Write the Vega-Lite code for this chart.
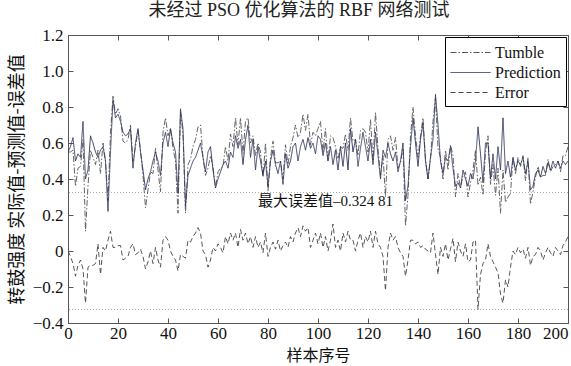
{
"$schema": "https://vega.github.io/schema/vega-lite/v6.json",
"width": 500, "height": 288,
"autosize": {"type": "none"},
"padding": {"left": 68, "top": 35, "right": 3, "bottom": 43},
"background": "white",
"config": {"view": {"stroke": "#555", "strokeWidth": 1}, "font": "Liberation Serif"},
"title": {"text": "未经过 PSO 优化算法的 RBF 网络测试", "font": "Liberation Serif, Noto Sans CJK SC", "fontSize": 18, "fontWeight": "normal", "anchor": "middle", "dx": -19, "offset": 6, "color": "#222"},
"datasets": {"main": [
{"x":0,"Tumble":0.55,"Prediction":0.55,"Error":0},
{"x":1,"Tumble":0.55,"Prediction":0.58,"Error":-0.03},
{"x":2,"Tumble":0.56,"Prediction":0.63,"Error":-0.07},
{"x":3,"Tumble":0.36,"Prediction":0.50,"Error":-0.14},
{"x":4,"Tumble":0.46,"Prediction":0.54,"Error":-0.08},
{"x":5,"Tumble":0.47,"Prediction":0.52,"Error":-0.05},
{"x":6,"Tumble":0.62,"Prediction":0.72,"Error":-0.10},
{"x":7,"Tumble":0.11,"Prediction":0.40,"Error":-0.29},
{"x":8,"Tumble":0.36,"Prediction":0.45,"Error":-0.09},
{"x":9,"Tumble":0.56,"Prediction":0.64,"Error":-0.08},
{"x":10,"Tumble":0.52,"Prediction":0.60,"Error":-0.08},
{"x":11,"Tumble":0.48,"Prediction":0.55,"Error":-0.07},
{"x":12,"Tumble":0.56,"Prediction":0.52,"Error":0.04},
{"x":13,"Tumble":0.43,"Prediction":0.56,"Error":-0.13},
{"x":14,"Tumble":0.60,"Prediction":0.58,"Error":0.02},
{"x":15,"Tumble":0.50,"Prediction":0.50,"Error":0},
{"x":16,"Tumble":0.28,"Prediction":0.22,"Error":0.06},
{"x":17,"Tumble":0.66,"Prediction":0.55,"Error":0.11},
{"x":18,"Tumble":0.86,"Prediction":0.84,"Error":0.02},
{"x":19,"Tumble":0.76,"Prediction":0.74,"Error":0.02},
{"x":20,"Tumble":0.79,"Prediction":0.76,"Error":0.03},
{"x":21,"Tumble":0.75,"Prediction":0.72,"Error":0.03},
{"x":22,"Tumble":0.61,"Prediction":0.66,"Error":-0.05},
{"x":23,"Tumble":0.60,"Prediction":0.64,"Error":-0.04},
{"x":24,"Tumble":0.62,"Prediction":0.65,"Error":-0.03},
{"x":25,"Tumble":0.70,"Prediction":0.68,"Error":0.02},
{"x":26,"Tumble":0.50,"Prediction":0.46,"Error":0.04},
{"x":27,"Tumble":0.58,"Prediction":0.60,"Error":-0.02},
{"x":28,"Tumble":0.67,"Prediction":0.68,"Error":-0.01},
{"x":29,"Tumble":0.56,"Prediction":0.55,"Error":0.01},
{"x":30,"Tumble":0.42,"Prediction":0.45,"Error":-0.03},
{"x":31,"Tumble":0.24,"Prediction":0.34,"Error":-0.10},
{"x":32,"Tumble":0.34,"Prediction":0.40,"Error":-0.06},
{"x":33,"Tumble":0.44,"Prediction":0.44,"Error":0},
{"x":34,"Tumble":0.43,"Prediction":0.50,"Error":-0.07},
{"x":35,"Tumble":0.57,"Prediction":0.55,"Error":0.02},
{"x":36,"Tumble":0.45,"Prediction":0.50,"Error":-0.05},
{"x":37,"Tumble":0.33,"Prediction":0.42,"Error":-0.09},
{"x":38,"Tumble":0.66,"Prediction":0.60,"Error":0.06},
{"x":39,"Tumble":0.74,"Prediction":0.66,"Error":0.08},
{"x":40,"Tumble":0.64,"Prediction":0.58,"Error":0.06},
{"x":41,"Tumble":0.68,"Prediction":0.68,"Error":0},
{"x":42,"Tumble":0.57,"Prediction":0.60,"Error":-0.03},
{"x":43,"Tumble":0.50,"Prediction":0.55,"Error":-0.05},
{"x":44,"Tumble":0.21,"Prediction":0.32,"Error":-0.11},
{"x":45,"Tumble":0.77,"Prediction":0.79,"Error":-0.02},
{"x":46,"Tumble":0.65,"Prediction":0.68,"Error":-0.03},
{"x":47,"Tumble":0.21,"Prediction":0.25,"Error":-0.04},
{"x":48,"Tumble":0.48,"Prediction":0.42,"Error":0.06},
{"x":49,"Tumble":0.51,"Prediction":0.46,"Error":0.05},
{"x":50,"Tumble":0.58,"Prediction":0.50,"Error":0.08},
{"x":51,"Tumble":0.62,"Prediction":0.52,"Error":0.10},
{"x":52,"Tumble":0.69,"Prediction":0.56,"Error":0.13},
{"x":53,"Tumble":0.70,"Prediction":0.60,"Error":0.10},
{"x":54,"Tumble":0.52,"Prediction":0.52,"Error":0},
{"x":55,"Tumble":0.42,"Prediction":0.44,"Error":-0.02},
{"x":56,"Tumble":0.46,"Prediction":0.55,"Error":-0.09},
{"x":57,"Tumble":0.53,"Prediction":0.58,"Error":-0.05},
{"x":58,"Tumble":0.47,"Prediction":0.45,"Error":0.02},
{"x":59,"Tumble":0.35,"Prediction":0.35,"Error":0},
{"x":60,"Tumble":0.44,"Prediction":0.40,"Error":0.04},
{"x":61,"Tumble":0.46,"Prediction":0.44,"Error":0.02},
{"x":62,"Tumble":0.47,"Prediction":0.48,"Error":-0.01},
{"x":63,"Tumble":0.58,"Prediction":0.50,"Error":0.08},
{"x":64,"Tumble":0.50,"Prediction":0.46,"Error":0.04},
{"x":65,"Tumble":0.65,"Prediction":0.55,"Error":0.10},
{"x":66,"Tumble":0.58,"Prediction":0.52,"Error":0.06},
{"x":67,"Tumble":0.74,"Prediction":0.64,"Error":0.10},
{"x":68,"Tumble":0.59,"Prediction":0.57,"Error":0.02},
{"x":69,"Tumble":0.74,"Prediction":0.62,"Error":0.12},
{"x":70,"Tumble":0.54,"Prediction":0.48,"Error":0.06},
{"x":71,"Tumble":0.72,"Prediction":0.62,"Error":0.10},
{"x":72,"Tumble":0.74,"Prediction":0.70,"Error":0.04},
{"x":73,"Tumble":0.60,"Prediction":0.52,"Error":0.08},
{"x":74,"Tumble":0.64,"Prediction":0.62,"Error":0.02},
{"x":75,"Tumble":0.53,"Prediction":0.45,"Error":0.08},
{"x":76,"Tumble":0.60,"Prediction":0.58,"Error":0.02},
{"x":77,"Tumble":0.55,"Prediction":0.50,"Error":0.05},
{"x":78,"Tumble":0.41,"Prediction":0.42,"Error":-0.01},
{"x":79,"Tumble":0.60,"Prediction":0.50,"Error":0.10},
{"x":80,"Tumble":0.33,"Prediction":0.36,"Error":-0.03},
{"x":81,"Tumble":0.52,"Prediction":0.50,"Error":0.02},
{"x":82,"Tumble":0.61,"Prediction":0.56,"Error":0.05},
{"x":83,"Tumble":0.49,"Prediction":0.48,"Error":0.01},
{"x":84,"Tumble":0.49,"Prediction":0.43,"Error":0.06},
{"x":85,"Tumble":0.50,"Prediction":0.50,"Error":0},
{"x":86,"Tumble":0.40,"Prediction":0.37,"Error":0.03},
{"x":87,"Tumble":0.59,"Prediction":0.54,"Error":0.05},
{"x":88,"Tumble":0.48,"Prediction":0.46,"Error":0.02},
{"x":89,"Tumble":0.58,"Prediction":0.50,"Error":0.08},
{"x":90,"Tumble":0.63,"Prediction":0.58,"Error":0.05},
{"x":91,"Tumble":0.70,"Prediction":0.60,"Error":0.10},
{"x":92,"Tumble":0.63,"Prediction":0.50,"Error":0.13},
{"x":93,"Tumble":0.66,"Prediction":0.58,"Error":0.08},
{"x":94,"Tumble":0.76,"Prediction":0.62,"Error":0.14},
{"x":95,"Tumble":0.67,"Prediction":0.56,"Error":0.11},
{"x":96,"Tumble":0.76,"Prediction":0.63,"Error":0.13},
{"x":97,"Tumble":0.59,"Prediction":0.57,"Error":0.02},
{"x":98,"Tumble":0.66,"Prediction":0.60,"Error":0.06},
{"x":99,"Tumble":0.64,"Prediction":0.54,"Error":0.10},
{"x":100,"Tumble":0.68,"Prediction":0.64,"Error":0.04},
{"x":101,"Tumble":0.72,"Prediction":0.62,"Error":0.10},
{"x":102,"Tumble":0.55,"Prediction":0.53,"Error":0.02},
{"x":103,"Tumble":0.68,"Prediction":0.60,"Error":0.08},
{"x":104,"Tumble":0.50,"Prediction":0.50,"Error":0},
{"x":105,"Tumble":0.64,"Prediction":0.58,"Error":0.06},
{"x":106,"Tumble":0.63,"Prediction":0.48,"Error":0.15},
{"x":107,"Tumble":0.58,"Prediction":0.56,"Error":0.02},
{"x":108,"Tumble":0.51,"Prediction":0.45,"Error":0.06},
{"x":109,"Tumble":0.58,"Prediction":0.58,"Error":0},
{"x":110,"Tumble":0.57,"Prediction":0.47,"Error":0.10},
{"x":111,"Tumble":0.65,"Prediction":0.60,"Error":0.05},
{"x":112,"Tumble":0.56,"Prediction":0.45,"Error":0.11},
{"x":113,"Tumble":0.74,"Prediction":0.68,"Error":0.06},
{"x":114,"Tumble":0.61,"Prediction":0.55,"Error":0.06},
{"x":115,"Tumble":0.62,"Prediction":0.62,"Error":0},
{"x":116,"Tumble":0.53,"Prediction":0.47,"Error":0.06},
{"x":117,"Tumble":0.67,"Prediction":0.57,"Error":0.10},
{"x":118,"Tumble":0.68,"Prediction":0.66,"Error":0.02},
{"x":119,"Tumble":0.66,"Prediction":0.58,"Error":0.08},
{"x":120,"Tumble":0.55,"Prediction":0.50,"Error":0.05},
{"x":121,"Tumble":0.73,"Prediction":0.62,"Error":0.11},
{"x":122,"Tumble":0.50,"Prediction":0.48,"Error":0.02},
{"x":123,"Tumble":0.77,"Prediction":0.66,"Error":0.11},
{"x":124,"Tumble":0.57,"Prediction":0.53,"Error":0.04},
{"x":125,"Tumble":0.42,"Prediction":0.40,"Error":0.02},
{"x":126,"Tumble":0.53,"Prediction":0.56,"Error":-0.03},
{"x":127,"Tumble":0.30,"Prediction":0.52,"Error":-0.22},
{"x":128,"Tumble":0.62,"Prediction":0.60,"Error":0.02},
{"x":129,"Tumble":0.64,"Prediction":0.54,"Error":0.10},
{"x":130,"Tumble":0.56,"Prediction":0.50,"Error":0.06},
{"x":131,"Tumble":0.63,"Prediction":0.55,"Error":0.08},
{"x":132,"Tumble":0.46,"Prediction":0.44,"Error":0.02},
{"x":133,"Tumble":0.49,"Prediction":0.50,"Error":-0.01},
{"x":134,"Tumble":0.57,"Prediction":0.60,"Error":-0.03},
{"x":135,"Tumble":0.14,"Prediction":0.28,"Error":-0.14},
{"x":136,"Tumble":0.31,"Prediction":0.36,"Error":-0.05},
{"x":137,"Tumble":0.64,"Prediction":0.58,"Error":0.06},
{"x":138,"Tumble":0.80,"Prediction":0.74,"Error":0.06},
{"x":139,"Tumble":0.64,"Prediction":0.60,"Error":0.04},
{"x":140,"Tumble":0.52,"Prediction":0.47,"Error":0.05},
{"x":141,"Tumble":0.64,"Prediction":0.62,"Error":0.02},
{"x":142,"Tumble":0.74,"Prediction":0.71,"Error":0.03},
{"x":143,"Tumble":0.51,"Prediction":0.50,"Error":0.01},
{"x":144,"Tumble":0.40,"Prediction":0.40,"Error":0},
{"x":145,"Tumble":0.51,"Prediction":0.52,"Error":-0.01},
{"x":146,"Tumble":0.72,"Prediction":0.62,"Error":0.10},
{"x":147,"Tumble":0.85,"Prediction":0.87,"Error":-0.02},
{"x":148,"Tumble":0.57,"Prediction":0.70,"Error":-0.13},
{"x":149,"Tumble":0.52,"Prediction":0.50,"Error":0.02},
{"x":150,"Tumble":0.40,"Prediction":0.43,"Error":-0.03},
{"x":151,"Tumble":0.56,"Prediction":0.52,"Error":0.04},
{"x":152,"Tumble":0.45,"Prediction":0.50,"Error":-0.05},
{"x":153,"Tumble":0.59,"Prediction":0.58,"Error":0.01},
{"x":154,"Tumble":0.53,"Prediction":0.46,"Error":0.07},
{"x":155,"Tumble":0.30,"Prediction":0.36,"Error":-0.06},
{"x":156,"Tumble":0.43,"Prediction":0.38,"Error":0.05},
{"x":157,"Tumble":0.35,"Prediction":0.35,"Error":0},
{"x":158,"Tumble":0.42,"Prediction":0.45,"Error":-0.03},
{"x":159,"Tumble":0.44,"Prediction":0.40,"Error":0.04},
{"x":160,"Tumble":0.30,"Prediction":0.36,"Error":-0.06},
{"x":161,"Tumble":0.38,"Prediction":0.43,"Error":-0.05},
{"x":162,"Tumble":0.45,"Prediction":0.40,"Error":0.05},
{"x":163,"Tumble":0.56,"Prediction":0.50,"Error":0.06},
{"x":164,"Tumble":0.365,"Prediction":0.69,"Error":-0.325},
{"x":165,"Tumble":0.41,"Prediction":0.54,"Error":-0.13},
{"x":166,"Tumble":0.31,"Prediction":0.38,"Error":-0.07},
{"x":167,"Tumble":0.55,"Prediction":0.60,"Error":-0.05},
{"x":168,"Tumble":0.64,"Prediction":0.60,"Error":0.04},
{"x":169,"Tumble":0.37,"Prediction":0.40,"Error":-0.03},
{"x":170,"Tumble":0.48,"Prediction":0.54,"Error":-0.06},
{"x":171,"Tumble":0.31,"Prediction":0.40,"Error":-0.09},
{"x":172,"Tumble":0.46,"Prediction":0.58,"Error":-0.12},
{"x":173,"Tumble":0.21,"Prediction":0.45,"Error":-0.24},
{"x":174,"Tumble":0.45,"Prediction":0.74,"Error":-0.29},
{"x":175,"Tumble":0.27,"Prediction":0.43,"Error":-0.16},
{"x":176,"Tumble":0.30,"Prediction":0.50,"Error":-0.20},
{"x":177,"Tumble":0.32,"Prediction":0.41,"Error":-0.09},
{"x":178,"Tumble":0.52,"Prediction":0.52,"Error":0},
{"x":179,"Tumble":0.43,"Prediction":0.45,"Error":-0.02},
{"x":180,"Tumble":0.52,"Prediction":0.50,"Error":0.02},
{"x":181,"Tumble":0.47,"Prediction":0.48,"Error":-0.01},
{"x":182,"Tumble":0.53,"Prediction":0.52,"Error":0.01},
{"x":183,"Tumble":0.39,"Prediction":0.43,"Error":-0.04},
{"x":184,"Tumble":0.52,"Prediction":0.50,"Error":0.02},
{"x":185,"Tumble":0.26,"Prediction":0.34,"Error":-0.08},
{"x":186,"Tumble":0.33,"Prediction":0.36,"Error":-0.03},
{"x":187,"Tumble":0.41,"Prediction":0.43,"Error":-0.02},
{"x":188,"Tumble":0.47,"Prediction":0.45,"Error":0.02},
{"x":189,"Tumble":0.41,"Prediction":0.41,"Error":0},
{"x":190,"Tumble":0.42,"Prediction":0.47,"Error":-0.05},
{"x":191,"Tumble":0.42,"Prediction":0.43,"Error":-0.01},
{"x":192,"Tumble":0.51,"Prediction":0.49,"Error":0.02},
{"x":193,"Tumble":0.44,"Prediction":0.45,"Error":-0.01},
{"x":194,"Tumble":0.47,"Prediction":0.50,"Error":-0.03},
{"x":195,"Tumble":0.48,"Prediction":0.46,"Error":0.02},
{"x":196,"Tumble":0.50,"Prediction":0.50,"Error":0},
{"x":197,"Tumble":0.44,"Prediction":0.46,"Error":-0.02},
{"x":198,"Tumble":0.53,"Prediction":0.50,"Error":0.03},
{"x":199,"Tumble":0.53,"Prediction":0.48,"Error":0.05},
{"x":200,"Tumble":0.58,"Prediction":0.50,"Error":0.08}
]},
"resolve": {"axis": {"x": "independent", "y": "independent"}},
"layer": [
{
 "data": {"values": [{"y": 0.32481}, {"y": -0.32481}]},
 "mark": {"type": "rule", "color": "#aaa", "strokeWidth": 1, "strokeDash": [1, 2]},
 "encoding": {"y": {"field": "y", "type": "quantitative", "scale": {"domain": [-0.4, 1.2], "nice": false}, "axis": null}}
},
{
 "data": {"name": "main"},
 "transform": [{"fold": ["Tumble", "Prediction", "Error"], "as": ["series", "value"]}],
 "mark": {"type": "line", "strokeWidth": 0.9, "clip": true},
 "encoding": {
  "x": {"field": "x", "type": "quantitative", "scale": {"domain": [0, 200], "nice": false},
   "axis": {"values": [0,20,40,60,80,100,120,140,160,180,200], "grid": false, "domain": false, "tickSize": -5, "tickColor": "#555", "labelFont": "Liberation Serif", "labelFontSize": 17, "labelColor": "#111", "labelPadding": 7, "labelFlush": false, "labelAlign": {"condition": {"test": "datum.value == 200", "value": "right"}, "value": "center"}, "title": "样本序号", "titleFont": "Noto Sans CJK SC", "titleFontSize": 16, "titleFontWeight": "normal", "titleColor": "#111", "titlePadding": 6}},
  "y": {"field": "value", "type": "quantitative", "scale": {"domain": [-0.4, 1.2], "nice": false},
   "axis": {"values": [-0.4,-0.2,0,0.2,0.4,0.6,0.8,1.0,1.2], "labelExpr": "datum.value == 0 ? '0' : format(datum.value, '.1f')", "grid": false, "domain": false, "tickSize": -5, "tickColor": "#555", "labelFont": "Liberation Serif", "labelFontSize": 17, "labelColor": "#111", "labelPadding": 10, "labelFlush": false, "title": "转鼓强度 实际值-预测值-误差值", "titleFont": "Noto Sans CJK SC", "titleFontSize": 18, "titleFontWeight": "normal", "titleColor": "#111", "titlePadding": 6}},
  "color": {"field": "series", "type": "nominal", "scale": {"domain": ["Tumble", "Prediction", "Error"], "range": ["#555", "#2e3258", "#444"]},
   "legend": {"title": null, "orient": "top-right", "offset": 2, "strokeColor": "#000", "fillColor": "white", "padding": 5, "symbolType": "M-1,0H3", "symbolSize": 400, "symbolStrokeWidth": 1, "labelFont": "Liberation Serif", "labelFontSize": 16, "labelColor": "#111", "rowPadding": 1, "labelOffset": 24}},
  "strokeDash": {"field": "series", "type": "nominal", "scale": {"domain": ["Tumble", "Prediction", "Error"], "range": [[6, 2, 1.5, 2], [1, 0], [5, 3]]},
   "legend": {"title": null, "orient": "top-right", "offset": 2, "strokeColor": "#000", "fillColor": "white", "padding": 5, "symbolType": "M-1,0H3", "symbolSize": 400, "symbolStrokeWidth": 1, "labelFont": "Liberation Serif", "labelFontSize": 16, "labelColor": "#111", "rowPadding": 1, "labelOffset": 24}}
 }
},
{
 "data": {"values": [{"x": 76, "y": 0.28, "label": "最大误差值–0.324 81"}]},
 "mark": {"type": "text", "align": "left", "baseline": "middle", "font": "Liberation Serif, Noto Sans CJK SC", "fontSize": 15, "color": "#111"},
 "encoding": {
  "x": {"field": "x", "type": "quantitative", "scale": {"domain": [0, 200], "nice": false}, "axis": null},
  "y": {"field": "y", "type": "quantitative", "scale": {"domain": [-0.4, 1.2], "nice": false}, "axis": null},
  "text": {"field": "label"}
 }
},
{
 "data": {"name": "main"},
 "mark": {"type": "point", "opacity": 0},
 "encoding": {
  "x": {"field": "x", "type": "quantitative", "scale": {"domain": [0, 200], "nice": false},
   "axis": {"orient": "top", "values": [0,20,40,60,80,100,120,140,160,180,200], "labels": false, "grid": false, "domain": false, "tickSize": -5, "tickColor": "#555", "title": null}},
  "y": {"field": "Prediction", "type": "quantitative", "scale": {"domain": [-0.4, 1.2], "nice": false},
   "axis": {"orient": "right", "values": [-0.4,-0.2,0,0.2,0.4,0.6,0.8,1.0,1.2], "labels": false, "grid": false, "domain": false, "tickSize": -5, "tickColor": "#555", "title": null}}
 }
}
]
}
